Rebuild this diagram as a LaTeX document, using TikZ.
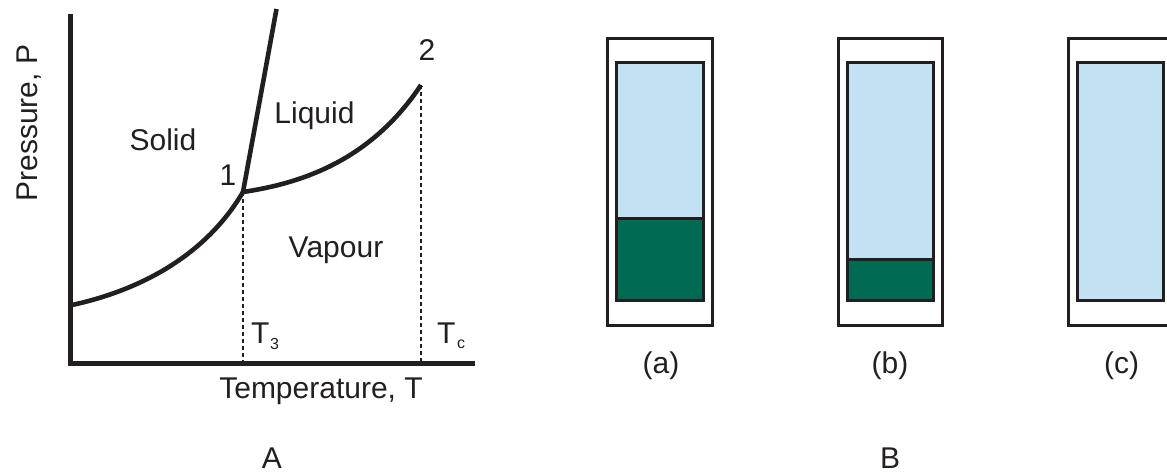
\documentclass[tikz,border=0pt]{standalone}
\usepackage{fontspec}
\setmainfont{Liberation Sans}
\definecolor{ink}{HTML}{231F20}
\definecolor{vap}{HTML}{C2E1F3}
\definecolor{liq}{HTML}{006A52}
\begin{document}
\begin{tikzpicture}[x=1pt,y=-1pt,
  lbl/.style={inner sep=0pt, text=ink, font=\fontsize{30}{36}\selectfont},
  sublbl/.style={inner sep=0pt, text=ink, font=\fontsize{16}{19}\selectfont},
  axisline/.style={draw=ink, line width=5pt, line join=miter},
  phaseline/.style={draw=ink, line width=4.6pt},
  guide/.style={draw=ink, line width=2.2pt, dash pattern=on 4pt off 3pt},
  frame/.style={draw=ink, line width=3pt},
  vapfill/.style={fill=vap},
  liqfill/.style={fill=liq}]
\useasboundingbox (0,0) rectangle (1167,472);
\clip (0,0) rectangle (1167,472);

% ---------- Panel A: phase diagram ----------
\coordinate (ytop) at (70,14);
\coordinate (O) at (70,363);
\coordinate (xend) at (475,363);
\coordinate (tp) at (243,192);
\coordinate (cp) at (421,85);
\coordinate (sstart) at (72,305);
\coordinate (mtop) at (276.5,9);
\coordinate (t3) at (243,363);
\coordinate (tc) at (421,363);

\draw[axisline] (ytop) -- (O) -- (xend);
\draw[guide] (tp) -- (t3);
\draw[guide] (cp) -- (tc);
\draw[phaseline] (sstart) .. controls (133,291.8) and (203,260) .. (tp);
\draw[phaseline] (tp) .. controls (303,183) and (371,160) .. (cp);
\draw[phaseline] (tp) -- (mtop);

\node[lbl, anchor=base, rotate=90] (plab) at (37.5,123) {Pressure, P};
\node[lbl, anchor=base] (tlab) at (321,398) {Temperature, T};
\node[lbl, anchor=base] (solid) at (163,150) {Solid};
\node[lbl, anchor=base] (liquid) at (314.5,123) {Liquid};
\node[lbl, anchor=base] (vapour) at (336,257) {Vapour};
\node[lbl, anchor=base] (one) at (228,185) {1};
\node[lbl, anchor=base] (two) at (427,60) {2};
\node[lbl, anchor=base west] (T3) at (251,343) {T};
\node[sublbl, anchor=base west] (T3s) at (270,349) {3};
\node[lbl, anchor=base west] (Tc) at (437,343) {T};
\node[sublbl, anchor=base west] (Tcs) at (457,348) {c};
\node[lbl, anchor=base] (A) at (272,468) {A};

% ---------- Panel B: three cells ----------
% (a)
\fill[vapfill] (616,62) rectangle (703,218);
\fill[liqfill] (616,218) rectangle (703,300);
\draw[frame] (616,218) -- (703,218);
\draw[frame] (616,62) rectangle (703,300);
\draw[frame] (607,38) rectangle (712,325);
% (b)
\fill[vapfill] (847,62) rectangle (933,259);
\fill[liqfill] (847,259) rectangle (933,300);
\draw[frame] (847,259) -- (933,259);
\draw[frame] (847,62) rectangle (933,300);
\draw[frame] (838,38) rectangle (942,325);
% (c)
\fill[vapfill] (1077,62) rectangle (1163,300);
\draw[frame] (1077,62) rectangle (1163,300);
\draw[frame] (1068,38) rectangle (1173,325);

\node[lbl, anchor=base] (la) at (661,373) {(a)};
\node[lbl, anchor=base] (lb) at (890,373) {(b)};
\node[lbl, anchor=base] (lc) at (1121.5,373) {(c)};
\node[lbl, anchor=base] (B) at (890,468) {B};
\end{tikzpicture}
\end{document}
